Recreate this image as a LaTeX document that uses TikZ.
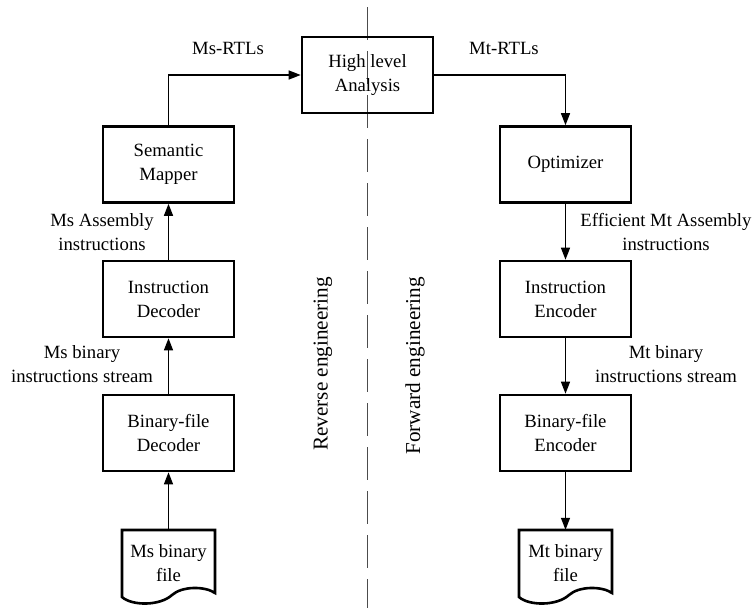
\documentclass[tikz,border=0pt]{standalone}
\usepackage{fontspec}
\setmainfont{Liberation Serif}
\usetikzlibrary{arrows.meta}
\begin{document}
\begin{tikzpicture}[x=1pt,y=-1pt,
  every node/.style={font=\fontsize{18.7}{24}\selectfont},
  box/.style={draw, line width=2.6pt, minimum width=131pt, minimum height=76pt, align=center, inner sep=0pt},
  docnode/.style={minimum width=93pt, minimum height=67pt, align=center, inner sep=0pt},
  docline/.style={line width=2.6pt, line join=miter},
  lbl/.style={align=center, inner sep=0pt},
  sidelbl/.style={inner sep=0pt, rotate=90, font=\fontsize{21.2}{25}\selectfont},
  conn/.style={line width=1.3pt, -{Triangle[length=12pt,width=9pt]}},
  divider/.style={line width=1pt, gray!60!black, dash pattern=on 33pt off 11pt}]
\useasboundingbox (0,0) rectangle (753,608);

% divider
\coordinate (dtop) at (367,7);
\coordinate (dbot) at (367,608);
\draw[divider] (dtop) -- (dbot);

% boxes
\node[box] (hla) at (367.5,75) {High level\\Analysis};
\node[box] (sm)  at (168.5,164.5) {Semantic\\Mapper};
\node[box] (id)  at (168.5,299) {Instruction\\Decoder};
\node[box] (bfd) at (168.5,433) {Binary-file\\Decoder};
\node[box] (opt) at (565.5,164.5) {Optimizer};
\node[box] (ie)  at (565.5,299) {Instruction\\Encoder};
\node[box] (bfe) at (565.5,433) {Binary-file\\Encoder};

% documents
\node[docnode] (msf) at (168.5,563.5) {Ms binary\\file};
\draw[docline] (122,597) -- (122,530) -- (215,530) -- (215,593)
  .. controls (205,586) and (182,586) .. (172,595)
  .. controls (160,606) and (132,606) .. (122,597) -- cycle;
\node[docnode] (mtf) at (565.5,563.5) {Mt binary\\file};
\draw[docline] (519,597) -- (519,530) -- (612,530) -- (612,593)
  .. controls (602,586) and (579,586) .. (569,595)
  .. controls (557,606) and (529,606) .. (519,597) -- cycle;

% connectors
\draw[conn] (sm.north) |- (hla.west);
\draw[conn] (hla.east) -| (opt.north);
\draw[conn] (id.north) -- (sm.south);
\draw[conn] (bfd.north) -- (id.south);
\draw[conn] (msf.north) -- (bfd.south);
\draw[conn] (opt.south) -- (ie.north);
\draw[conn] (ie.south) -- (bfe.north);
\draw[conn] (bfe.south) -- (mtf.north);

% labels
\node[lbl] (l1) at (228,48) {Ms-RTLs};
\node[lbl] (l2) at (504,48) {Mt-RTLs};
\node[lbl] (l3) at (102,232) {Ms Assembly\\instructions};
\node[lbl] (l4) at (82,364) {Ms binary\\instructions stream};
\node[lbl] (l5) at (666,232) {Efficient Mt Assembly\\instructions};
\node[lbl] (l6) at (666,364) {Mt binary\\instructions stream};
\node[sidelbl] (rev) at (323,364) {Reverse engineering};
\node[sidelbl] (fwd) at (415,366) {Forward engineering};
\end{tikzpicture}
\end{document}
